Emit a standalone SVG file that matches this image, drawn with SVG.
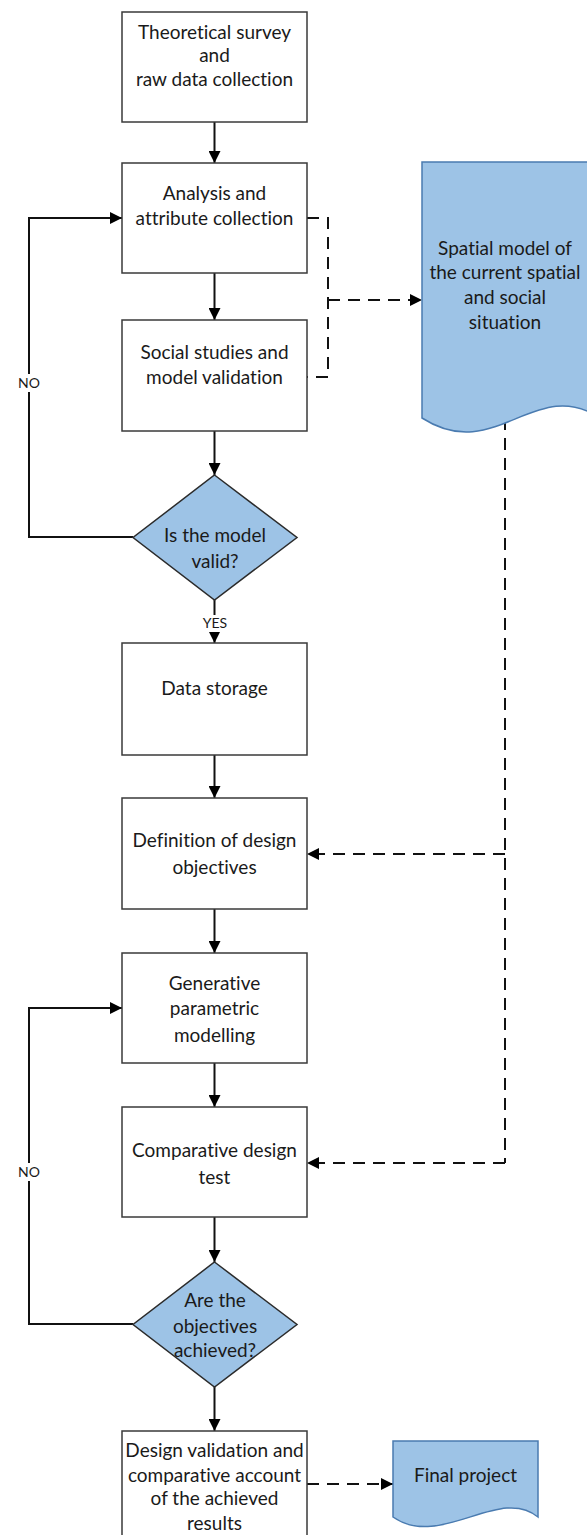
<svg xmlns="http://www.w3.org/2000/svg" width="587" height="1535" viewBox="0 0 587 1535">
<defs>
<style>
.box{fill:#ffffff;stroke:#3a3a3a;stroke-width:1.5}
.dia{fill:#9dc3e6;stroke:#2b2b2b;stroke-width:1.5}
.doc{fill:#9dc3e6;stroke:#4a7bb0;stroke-width:1.5}
.t{font-family:Lato,"Open Sans",sans-serif;font-size:19px;fill:#1a1a1a;text-anchor:middle;font-variant-ligatures:none}
.s{font-family:Lato,"Open Sans",sans-serif;font-size:14px;fill:#1a1a1a;text-anchor:middle}
.ln{fill:none;stroke:#111;stroke-width:2}
.dl{fill:none;stroke:#111;stroke-width:2;stroke-dasharray:12 8}
</style>
<marker id="ah" markerWidth="12" markerHeight="12" refX="12" refY="6" orient="auto" markerUnits="userSpaceOnUse">
<path d="M0,0 L12,6 L0,12 z" fill="#000"/>
</marker>
</defs>
<rect width="587" height="1535" fill="#ffffff"/>

<g id="connectors">
<line class="ln" x1="214.5" y1="122" x2="214.5" y2="163" marker-end="url(#ah)"/>
<line class="ln" x1="214.5" y1="273" x2="214.5" y2="320" marker-end="url(#ah)"/>
<line class="ln" x1="214.5" y1="431" x2="214.5" y2="475" marker-end="url(#ah)"/>
<line class="ln" x1="214.5" y1="600" x2="214.5" y2="643" marker-end="url(#ah)"/>
<line class="ln" x1="214.5" y1="755" x2="214.5" y2="798" marker-end="url(#ah)"/>
<line class="ln" x1="214.5" y1="909" x2="214.5" y2="953" marker-end="url(#ah)"/>
<line class="ln" x1="214.5" y1="1063" x2="214.5" y2="1107" marker-end="url(#ah)"/>
<line class="ln" x1="214.5" y1="1217" x2="214.5" y2="1262" marker-end="url(#ah)"/>
<line class="ln" x1="214.5" y1="1387" x2="214.5" y2="1431" marker-end="url(#ah)"/>
<polyline class="ln" points="133,537 29,537 29,218 122,218" marker-end="url(#ah)"/>
<polyline class="ln" points="133,1324 29,1324 29,1008 122,1008" marker-end="url(#ah)"/>
<rect x="18" y="374" width="22" height="18" fill="#fff"/>
<text class="s" x="29" y="388">NO</text>
<rect x="18" y="1163" width="22" height="18" fill="#fff"/>
<text class="s" x="29" y="1177">NO</text>
<rect x="200" y="615" width="30" height="17" fill="#fff"/>
<text class="s" x="215" y="628">YES</text>
<polyline class="dl" points="307,218 328,218 328,377 307,377"/>
<line class="dl" x1="328" y1="300" x2="422" y2="300" marker-end="url(#ah)"/>
<line class="dl" x1="505" y1="418" x2="505" y2="1163"/>
<line class="dl" x1="505" y1="854" x2="307" y2="854" marker-end="url(#ah)"/>
<line class="dl" x1="505" y1="1163" x2="307" y2="1163" marker-end="url(#ah)"/>
<line class="dl" x1="307" y1="1484" x2="393" y2="1484" marker-end="url(#ah)"/>
</g>

<g id="n1">
<rect class="box" x="122" y="12" width="185" height="110"/>
<text class="t" x="214.5" y="39">Theoretical survey</text>
<text class="t" x="214.5" y="62">and</text>
<text class="t" x="214.5" y="86">raw data collection</text>
</g>
<g id="n2">
<rect class="box" x="122" y="163" width="185" height="110"/>
<text class="t" x="214.5" y="200">Analysis and</text>
<text class="t" x="214.5" y="225">attribute collection</text>
</g>
<g id="n3">
<rect class="box" x="122" y="320" width="185" height="111"/>
<text class="t" x="214.5" y="359">Social studies and</text>
<text class="t" x="214.5" y="384">model validation</text>
</g>
<g id="d1">
<polygon class="dia" points="214.5,475 297,537.5 214.5,600 133,537.5"/>
<text class="t" x="215" y="542">Is the model</text>
<text class="t" x="215" y="568">valid?</text>
</g>
<g id="n4">
<rect class="box" x="122" y="643" width="185" height="112"/>
<text class="t" x="214.5" y="695">Data storage</text>
</g>
<g id="n5">
<rect class="box" x="122" y="798" width="185" height="111"/>
<text class="t" x="214.5" y="847">Definition of design</text>
<text class="t" x="214.5" y="874">objectives</text>
</g>
<g id="n6">
<rect class="box" x="122" y="953" width="185" height="110"/>
<text class="t" x="214.5" y="990">Generative</text>
<text class="t" x="214.5" y="1015">parametric</text>
<text class="t" x="214.5" y="1042">modelling</text>
</g>
<g id="n7">
<rect class="box" x="122" y="1107" width="185" height="110"/>
<text class="t" x="214.5" y="1157">Comparative design</text>
<text class="t" x="214.5" y="1184">test</text>
</g>
<g id="d2">
<polygon class="dia" points="214.5,1262 297,1324.5 214.5,1387 133,1324.5"/>
<text class="t" x="215" y="1307">Are the</text>
<text class="t" x="215" y="1333">objectives</text>
<text class="t" x="215" y="1357">achieved?</text>
</g>
<g id="n8">
<rect class="box" x="122" y="1431" width="185" height="110"/>
<text class="t" x="214.5" y="1457">Design validation and</text>
<text class="t" x="214.5" y="1482">comparative account</text>
<text class="t" x="214.5" y="1505">of the achieved</text>
<text class="t" x="214.5" y="1530">results</text>
</g>
<g id="doc1">
<path class="doc" d="M422,162 H600 V418 C535,375 495,465 422,418 Z"/>
<text class="t" x="505" y="255">Spatial model of</text>
<text class="t" x="505" y="279">the current spatial</text>
<text class="t" x="505" y="304">and social</text>
<text class="t" x="505" y="329">situation</text>
</g>
<g id="doc2">
<path class="doc" d="M393,1441 H538 V1517 C500,1485 440,1550 393,1517 Z"/>
<text class="t" x="465.5" y="1482">Final project</text>
</g>
</svg>
